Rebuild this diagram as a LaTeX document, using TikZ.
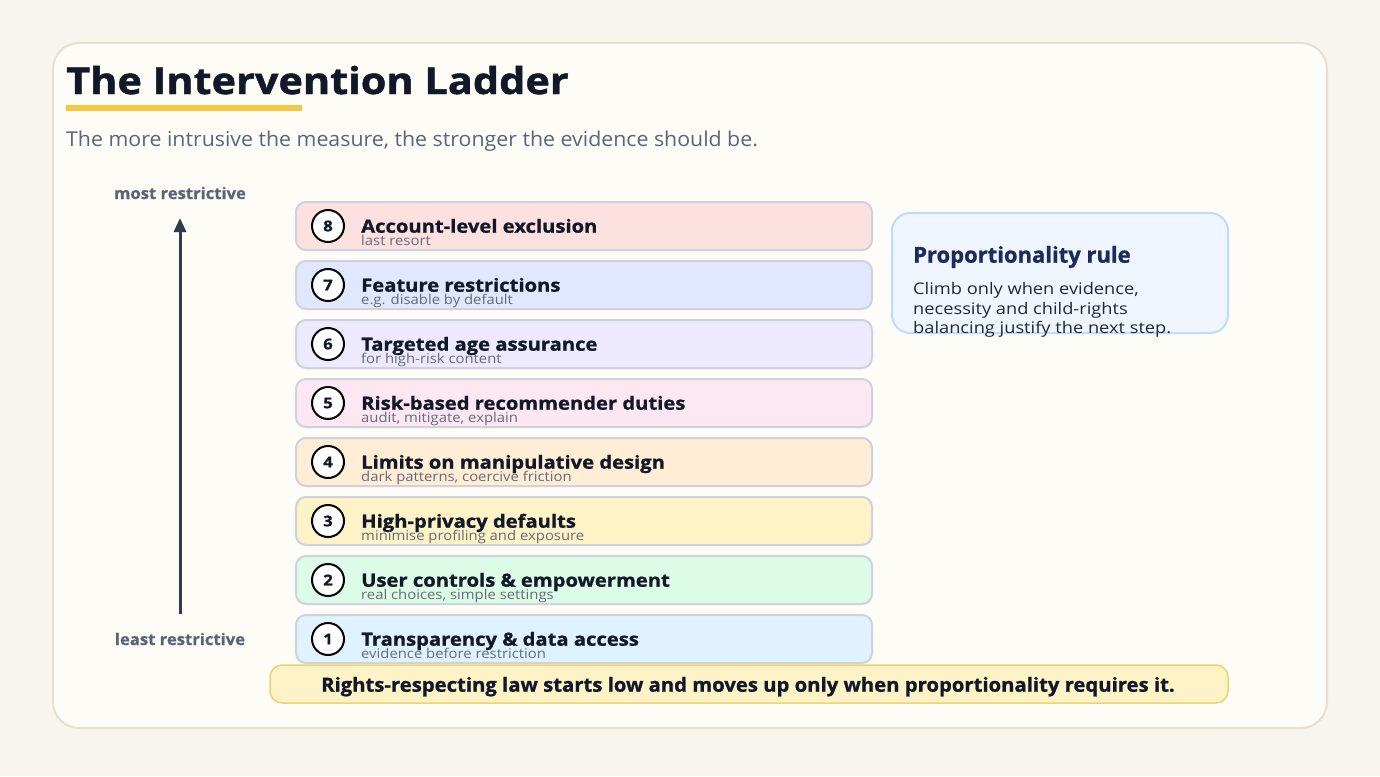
\documentclass[tikz,border=0pt]{standalone}
\usepackage{fontspec}
\setmainfont{Open Sans}
\newfontfamily\ftitle[FakeStretch=1.12, BoldFeatures={FakeBold=1.2}]{Open Sans}
\newfontfamily\frung[FakeStretch=1.11, BoldFeatures={FakeBold=1.0}]{Open Sans}
\newfontfamily\fsub[FakeStretch=1.10]{Open Sans}
\newfontfamily\fbody[FakeStretch=1.14]{Open Sans}
\newfontfamily\fsubt[FakeStretch=1.04]{Open Sans}
\newfontfamily\fside[FakeStretch=1.04, BoldFeatures={FakeBold=0.8}]{Open Sans}
\newfontfamily\fban[FakeStretch=1.04, BoldFeatures={FakeBold=1.0}]{Open Sans}
\newfontfamily\fprop[FakeStretch=1.0, BoldFeatures={FakeBold=1.0}]{Open Sans}
\usetikzlibrary{arrows.meta}
\definecolor{bgout}{HTML}{F8F5EE}
\definecolor{cardfill}{HTML}{FEFCF7}
\definecolor{cardline}{HTML}{E7DFD1}
\definecolor{ink}{HTML}{111827}
\definecolor{subgray}{HTML}{5B6577}
\definecolor{labgray}{HTML}{5A6474}
\definecolor{smallgray}{HTML}{646C7A}
\definecolor{arrowc}{HTML}{2F3A4A}
\definecolor{goldline}{HTML}{F5C842}
\definecolor{rungline}{HTML}{CDD3DC}
\definecolor{cA}{HTML}{FDE0E0}
\definecolor{cB}{HTML}{E0E7FF}
\definecolor{cC}{HTML}{EDE9FE}
\definecolor{cD}{HTML}{FCE7F3}
\definecolor{cE}{HTML}{FFEDD5}
\definecolor{cF}{HTML}{FEF3C7}
\definecolor{cG}{HTML}{DCFCE7}
\definecolor{cH}{HTML}{E0F2FE}
\definecolor{propfill}{HTML}{EFF6FF}
\definecolor{propline}{HTML}{BFDBFE}
\definecolor{navy}{HTML}{1E2A5C}
\definecolor{bodyink}{HTML}{1F2937}
\definecolor{banfill}{HTML}{FEF3C7}
\definecolor{banline}{HTML}{F3D26E}
\newcommand\rung[5]{%
  \node[rungbox, fill=#3] (r#1) at (584,#2) {};
  \node[numcirc] (c#1) at (328,#2) {#1};
  \node[rungtitle] (t#1) at (361,#2+6.7) {#4};
  \node[rungsub] (s#1) at (361,#2+19.7) {#5};
}
\begin{document}
\begin{tikzpicture}[x=1pt,y=-1pt,
  rungbox/.style={draw=rungline, line width=2pt, rounded corners=10pt, minimum width=576pt, minimum height=48pt, inner sep=0pt},
  numcirc/.style={circle, draw=black, line width=2pt, fill=white, minimum size=32pt, inner sep=0pt, font=\frung\fontsize{15}{15}\selectfont\bfseries, text=ink},
  rungtitle/.style={anchor=base west, inner sep=0pt, font=\frung\fontsize{18.2}{18.2}\selectfont\bfseries, text=ink},
  rungsub/.style={anchor=base west, inner sep=0pt, font=\fsub\fontsize{13.5}{13.5}\selectfont, text=smallgray},
  sidelab/.style={anchor=base, inner sep=0pt, font=\fside\fontsize{16}{16}\selectfont\bfseries, text=labgray},
  bodyline/.style={anchor=base west, inner sep=0pt, font=\fbody\fontsize{16}{16}\selectfont, text=bodyink}
]
\useasboundingbox (0,0) rectangle (1380,776);
\fill[bgout] (0,0) rectangle (1380,776);
\draw[cardline, line width=2pt, fill=cardfill, rounded corners=26pt] (53,43) rectangle (1327,728);

\node[anchor=base west, inner sep=0pt, font=\ftitle\fontsize{37}{37}\selectfont\bfseries, text=ink] (title) at (66,94) {The Intervention Ladder};
\fill[goldline] (66,105) rectangle (302,110.5);
\node[anchor=base west, inner sep=0pt, font=\fsubt\fontsize{20.5}{20.5}\selectfont, text=subgray] (subtitle) at (66,146) {The more intrusive the measure, the stronger the evidence should be.};

\node[sidelab] (most) at (180,199) {most restrictive};
\node[sidelab] (least) at (180,645) {least restrictive};
\coordinate (abot) at (180,614);
\coordinate (atop) at (180,218);
\draw[arrowc, line width=3pt, -{Triangle[length=14pt,width=12pt]}] (abot) -- (atop);

\rung{8}{226}{cA}{Account-level exclusion}{last resort}
\rung{7}{285}{cB}{Feature restrictions}{e.g. disable by default}
\rung{6}{344}{cC}{Targeted age assurance}{for high-risk content}
\rung{5}{403}{cD}{Risk-based recommender duties}{audit, mitigate, explain}
\rung{4}{462}{cE}{Limits on manipulative design}{dark patterns, coercive friction}
\rung{3}{521}{cF}{High-privacy defaults}{minimise profiling and exposure}
\rung{2}{580}{cG}{User controls \& empowerment}{real choices, simple settings}
\rung{1}{639}{cH}{Transparency \& data access}{evidence before restriction}

\node[draw=propline, line width=2pt, fill=propfill, rounded corners=18pt, minimum width=336pt, minimum height=120pt, inner sep=0pt] (prop) at (1060,273) {};
\node[anchor=base west, inner sep=0pt, font=\fprop\fontsize{22}{22}\selectfont\bfseries, text=navy] (proptitle) at (913,262.7) {Proportionality rule};
\node[bodyline] (p1) at (913,294.3) {Climb only when evidence,};
\node[bodyline] (p2) at (913,314.3) {necessity and child-rights};
\node[bodyline] (p3) at (913,333.3) {balancing justify the next step.};

\node[draw=banline, line width=1.5pt, fill=banfill, rounded corners=12pt, minimum width=958pt, minimum height=38pt, inner sep=0pt] (banner) at (749,684) {};
\node[anchor=base, inner sep=0pt, font=\fban\fontsize{19.5}{19.5}\selectfont\bfseries, text=ink] (bantext) at (748,691.7) {Rights-respecting law starts low and moves up only when proportionality requires it.};
\end{tikzpicture}
\end{document}
